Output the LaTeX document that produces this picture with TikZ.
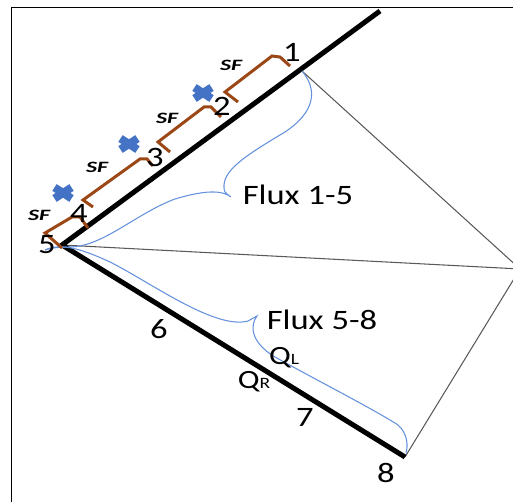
\documentclass[tikz,border=0pt]{standalone}
\usepackage{fontspec}
\setmainfont{Carlito}
\usepackage{tikz}

\definecolor{sfbrown}{RGB}{156,72,22}
\definecolor{crossblue}{RGB}{68,114,196}
\definecolor{bracecol}{RGB}{100,145,220}

\begin{document}
\begin{tikzpicture}[x=0.02cm,y=-0.02cm,
    thickline/.style={line width=0.1cm},
    thinline/.style={draw=black!65,line width=0.6pt},
    sfbracket/.style={draw=sfbrown,line width=0.06cm},
    fluxbrace/.style={draw=bracecol,line width=0.6pt},
    xcross/.style={draw=crossblue,line width=0.16cm},
    lbl/.style={font=\fontsize{16}{18}\selectfont,xscale=1.23,transform shape,inner sep=0pt},
    sflbl/.style={font=\fontsize{9}{10}\selectfont\bfseries\itshape,xscale=1.5,transform shape,inner sep=0pt}]
  \useasboundingbox (0,0) rectangle (513,502);
  \clip (0,0) rectangle (513,502);
  \draw[line width=0.03cm] (11.5,7.5) rectangle (530,520);

  \coordinate (P5) at (62,245);
  \coordinate (T) at (380,11);
  \coordinate (P8) at (405,457);
  \coordinate (P1) at (302,71);
  \coordinate (R) at (520,269);

  % cone
  \draw[thinline] (P1) -- (R) -- (P8);
  \draw[thinline] (P5) -- (R);
  \draw[thickline] (T) -- (P5) -- (P8);

  % flux braces
  \draw[fluxbrace] (P1) .. controls (318,90) and (315,112) .. (285,132)
    .. controls (250,153) and (225,168) .. (224,185)
    .. controls (224,192) .. (231,197)
    .. controls (222,190) and (205,190) .. (175,199)
    .. controls (140,212) and (110,240) .. (80,246)
    .. controls (70,248) and (55,246) .. (45,250);
  \draw[fluxbrace] (45,250) .. controls (60,243) and (80,248) .. (110,262)
    .. controls (150,282) and (215,330) .. (248,321)
    .. controls (253,319) .. (257,316)
    .. controls (250,325) and (250,342) .. (275,357)
    .. controls (320,382) and (375,410) .. (398,425)
    .. controls (408,434) and (408,446) .. (406,453);

  % SF brackets
  \draw[sfbracket] (238,102) -- (225,92) -- (272,56) -- (280,57) -- (290,66);
  \draw[sfbracket] (170,152) -- (158,142) -- (204,107) -- (211,107) -- (221,117);
  \draw[sfbracket] (93,207) -- (83,200) -- (140,159) -- (147,159) -- (153,166);
  \draw[sfbracket] (62,248) -- (45,233) -- (72,217) -- (80,217) -- (88,228);

  \foreach \cx/\cy in {63/193,129/144,203/93}
    \draw[xcross] (\cx-8.5,\cy-5.5) -- (\cx+8.5,\cy+5.5) (\cx-8.5,\cy+5.5) -- (\cx+8.5,\cy-5.5);

  % labels
  \node[lbl] (l1) at (292,52) {1};
  \node[lbl] (l2) at (222,106) {2};
  \node[lbl] (l3) at (155,157) {3};
  \node[lbl] (l4) at (79,213) {4};
  \node[lbl] (l5) at (47,245) {5};
  \node[lbl] (l6) at (159,329) {6};
  \node[lbl] (l7) at (305,417) {7};
  \node[lbl] (l8) at (386,473) {8};
  \node[lbl] (flux15) at (298,195) {Flux 1-5};
  \node[lbl] (flux58) at (322,320) {Flux 5-8};
  \node[lbl,font=\fontsize{15}{17}\selectfont] (ql) at (284,358) {Q{\fontsize{9}{10}\selectfont L}};
  \node[lbl,font=\fontsize{15}{17}\selectfont] (qr) at (254,382) {Q{\fontsize{9}{10}\selectfont R}};
  \node[sflbl] (sf1) at (231,65) {SF};
  \node[sflbl] (sf2) at (167,118) {SF};
  \node[sflbl] (sf3) at (97,167) {SF};
  \node[sflbl] (sf4) at (39,215) {SF};
\end{tikzpicture}
\end{document}
